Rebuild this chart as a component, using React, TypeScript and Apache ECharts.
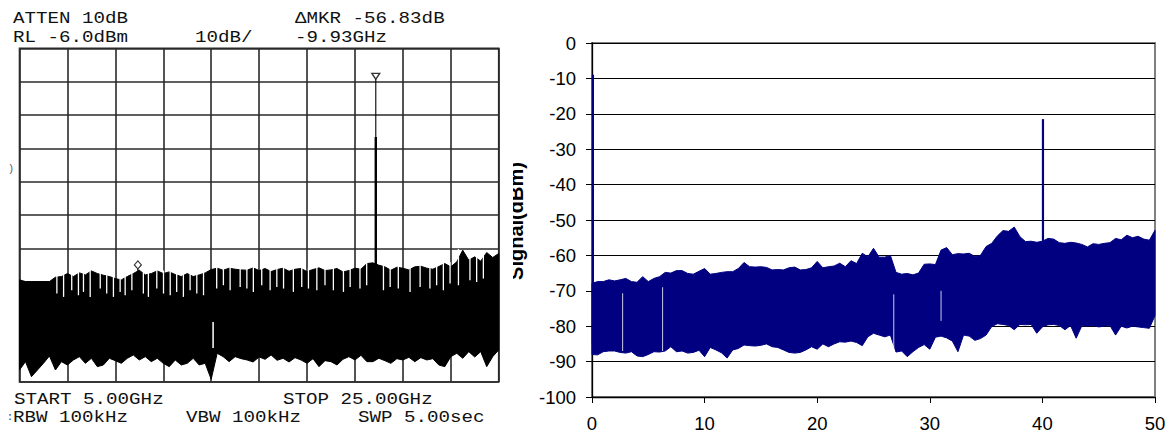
import React, { useEffect, useRef } from "react";
import * as echarts from "echarts";

// ---------- Left panel: spectrum analyzer trace (GHz, dBm) ----------
const LEFT_FREQ = [
  5, 5.25, 5.5, 5.75, 6, 6.25, 6.5, 6.75, 7, 7.25, 7.5, 7.75, 8, 8.25, 8.5, 8.75,
  9, 9.25, 9.5, 9.75, 10, 10.25, 10.5, 10.75, 11, 11.25, 11.5, 11.75, 12, 12.25, 12.5, 12.75,
  13, 13.25, 13.5, 13.75, 14, 14.25, 14.5, 14.75, 15, 15.25, 15.5, 15.75, 16, 16.25, 16.5, 16.75,
  17, 17.25, 17.5, 17.75, 18, 18.25, 18.5, 18.75, 19, 19.25, 19.5, 19.75, 20, 20.25, 20.5, 20.75,
  21, 21.25, 21.5, 21.75, 22, 22.25, 22.5, 22.75, 23, 23.25, 23.5, 23.75, 24, 24.25, 24.5, 24.75, 25,
];
const LEFT_UPPER = [
  -75.4, -75.9, -75.9, -75.9, -75.9, -75.9, -74.6, -74.4, -73.5, -74.4, -73.3, -73.9, -72.7, -73.5, -74.0, -74.4,
  -75.0, -75.4, -74.4, -73.5, -72.5, -73.9, -73.5, -72.7, -73.5, -73.0, -73.8, -74.4, -73.5, -74.4, -73.9, -73.3,
  -72.3, -71.9, -72.5, -71.9, -72.2, -72.4, -72.5, -71.8, -72.6, -72.0, -72.9, -72.3, -71.9, -72.8, -72.2, -72.0,
  -72.9, -72.3, -71.8, -72.6, -72.4, -72.0, -73.0, -72.6, -71.9, -72.2, -70.5, -70.3, -71.0, -71.5, -72.5, -71.6,
  -71.9, -72.4, -71.5, -71.3, -71.9, -72.2, -71.4, -70.5, -71.5, -70.0, -66.5, -69.5, -68.5, -69.8, -67.2, -68.7, -67.5,
];
const LEFT_LOWER = [
  -102.4, -99.9, -104.4, -102.4, -100.4, -98.2, -102.4, -99.9, -100.9, -99.4, -98.4, -100.4, -98.9, -101.4, -100.9, -98.9,
  -99.6, -100.4, -98.9, -97.9, -99.4, -98.4, -99.9, -98.9, -100.4, -101.4, -99.4, -100.9, -100.4, -98.9, -100.9, -100.4,
  -105.2, -97.4, -98.4, -99.9, -98.4, -99.0, -99.4, -100.0, -98.5, -99.2, -97.9, -99.5, -98.9, -100.0, -98.7, -99.4,
  -100.4, -99.0, -101.4, -99.6, -99.9, -100.9, -99.2, -98.4, -99.4, -98.0, -99.9, -99.9, -98.9, -99.6, -100.4, -99.0,
  -99.4, -98.6, -99.9, -98.7, -99.4, -99.0, -100.9, -101.4, -98.4, -97.4, -98.9, -96.9, -98.5, -96.9, -101.4, -98.4, -96.4,
];
// white comb gaps opening from the top edge of the trace, and how far down each reaches (dBm)
const LEFT_NOTCH_FREQ = [
  6.56, 6.84, 7.18, 7.46, 7.67, 7.95, 8.37, 8.64, 8.92, 9.2, 9.41, 9.69, 10.17, 10.38, 10.73, 11.01,
  11.29, 11.56, 11.84, 12.12, 12.4, 12.68, 13.23, 13.51, 13.79, 14.21, 14.49, 14.76, 15.11, 15.46, 15.74,
  16.02, 16.43, 16.78, 17.06, 17.41, 17.75, 18.1, 18.52, 18.8, 19.21, 19.49, 20.19, 20.47, 20.81, 21.3,
  21.72, 22.13, 22.41, 22.69, 22.97, 23.32, 23.8, 24.08, 24.36,
];
const LEFT_NOTCH_BOTTOM = [
  -79.5, -80.5, -78.5, -80, -79, -80.5, -78, -79.5, -80.5, -79, -80, -78.5, -79.5, -80.5, -78, -79.5,
  -80, -79, -80.5, -78.5, -79.5, -80, -78, -77, -78.5, -77.5, -78, -79, -77, -78.5, -77.5,
  -78, -79, -77.5, -78, -78.5, -77, -78.5, -79, -77.5, -78, -77, -78.5, -77.5, -78, -79,
  -77.5, -78, -77, -78.5, -76.5, -77, -75.5, -76, -75,
];
const LEFT_SPIKE = { freq: 19.87, top: -15.3, thickTop: -32.6, base: -74 };
const LEFT_MARKER2 = { freq: 9.94, level: -72.1 };
const LEFT_GAPS = [{ freq: 13.08, top: -88, bottom: -95.8 }];

// ---------- Right panel: simulated spectrum (GHz, dBm) ----------
const RIGHT_FREQ = [
  0, 0.5, 1, 1.5, 2, 2.5, 3, 3.5, 4, 4.5, 5, 5.5, 6, 6.5, 7, 7.5, 8, 8.5, 9, 9.5,
  10, 10.5, 11, 11.5, 12, 12.5, 13, 13.5, 14, 14.5, 15, 15.5, 16, 16.5, 17, 17.5, 18, 18.5, 19, 19.5,
  20, 20.5, 21, 21.5, 22, 22.5, 23, 23.5, 24, 24.5, 25, 25.5, 26, 26.5, 27, 27.5, 28, 28.5, 29, 29.5,
  30, 30.5, 31, 31.5, 32, 32.5, 33, 33.5, 34, 34.5, 35, 35.5, 36, 36.5, 37, 37.5, 38, 38.5, 39, 39.5,
  40, 40.5, 41, 41.5, 42, 42.5, 43, 43.5, 44, 44.5, 45, 45.5, 46, 46.5, 47, 47.5, 48, 48.5, 49, 49.5, 50,
];
const RIGHT_UPPER = [
  -67.9, -67.4, -67.4, -66.9, -67.2, -66.9, -66.5, -67.4, -67.6, -66.0,
  -67.4, -66.5, -66.0, -64.8, -65.0, -64.3, -64.3, -65.1, -65.3, -64.5,
  -63.7, -65.3, -65.1, -64.8, -64.6, -64.6, -63.7, -62.0, -63.2, -63.3,
  -63.2, -63.4, -64.1, -64.0, -64.1, -63.5, -63.3, -64.1, -64.0, -63.5,
  -61.7, -63.5, -63.2, -63.0, -62.2, -63.2, -61.5, -62.3, -59.4, -60.4,
  -58.0, -60.5, -60.5, -60.0, -64.8, -65.3, -65.1, -65.5, -65.0, -62.5,
  -62.4, -62.6, -58.5, -57.8, -59.8, -59.5, -59.6, -59.4, -60.3, -60.0,
  -57.5, -56.6, -54.5, -53.0, -53.2, -52.0, -54.7, -56.1, -56.0, -56.3,
  -56.0, -55.2, -55.4, -56.4, -56.6, -56.3, -56.5, -56.9, -57.6, -56.7,
  -56.9, -56.6, -56.4, -55.2, -55.6, -54.3, -55.0, -54.6, -55.4, -55.7,
  -52.9,
];
const RIGHT_LOWER = [
  -88.0, -88.1, -87.2, -87.0, -87.0, -87.4, -87.6, -87.2, -88.4, -88.6,
  -88.0, -87.2, -87.3, -87.0, -85.8, -87.2, -87.0, -87.6, -87.4, -86.8,
  -88.6, -86.0, -86.7, -87.5, -89.0, -86.7, -86.3, -85.3, -85.5, -85.6,
  -85.4, -85.0, -85.8, -86.0, -86.7, -87.4, -87.6, -87.4, -86.7, -85.8,
  -86.5, -85.0, -85.8, -85.0, -84.4, -84.5, -84.2, -84.6, -85.5, -83.0,
  -82.0, -82.5, -83.0, -82.5, -87.3, -87.0, -88.6, -87.2, -86.0, -85.2,
  -86.5, -83.1, -82.8, -83.3, -84.2, -87.2, -82.5, -82.8, -84.0, -83.5,
  -82.5, -80.1, -79.3, -79.5, -79.8, -81.0, -79.5, -79.6, -79.5, -82.0,
  -80.2, -79.6, -79.5, -79.8, -81.0, -79.8, -83.4, -79.9, -80.0, -79.8,
  -80.2, -80.0, -79.8, -82.5, -80.0, -80.5, -80.0, -80.2, -80.4, -80.6,
  -77.0,
];
const RIGHT_SPIKES = [
  { freq: 0.08, top: -9, base: -85 },
  { freq: 40.05, top: -21.5, base: -60 },
];
const RIGHT_GAPS = [
  { freq: 2.72, top: -70.7, bottom: -87 },
  { freq: 6.27, top: -69, bottom: -87 },
  { freq: 26.8, top: -71, bottom: -87 },
  { freq: 31.0, top: -70, bottom: -78.5 },
];

// ---------- Texts ----------
const HEADER_TEXTS = [
  { text: "ATTEN 10dB", x: 13, y: 18.5 },
  { text: "RL -6.0dBm", x: 13, y: 37.5 },
  { text: "10dB/", x: 195, y: 37.5 },
  { text: "\u0394MKR -56.83dB", x: 295, y: 18.5 },
  { text: "-9.93GHz", x: 295, y: 37.5 },
  { text: "START 5.00GHz", x: 14, y: 399 },
  { text: "STOP 25.00GHz", x: 283, y: 399 },
  { text: "RBW 100kHz", x: 13, y: 417.5 },
  { text: "VBW 100kHz", x: 186, y: 417.5 },
  { text: "SWP 5.00sec", x: 358, y: 417.5 },
];
const Y_TITLE = "Signal(dBm)";
const X_RIGHT_TICKS = { min: 0, max: 50, interval: 10 };
const Y_RIGHT_TICKS = { min: -100, max: 0, interval: 10 };

const NAVY = "#000080";
const MONO = '"Liberation Mono", "DejaVu Sans Mono", monospace';
const SANS = '"Liberation Sans", Arial, sans-serif';

function band(xi: number, yi: number, freq: number[], upper: number[], lower: number[], color: string) {
  return {
    type: "custom",
    coordinateSystem: "cartesian2d",
    xAxisIndex: xi,
    yAxisIndex: yi,
    data: [[freq[0], upper[0]]],
    encode: { x: 0, y: 1 },
    silent: true,
    z: 3,
    renderItem: (_p: any, api: any) => {
      const pts: number[][] = [];
      for (let i = 0; i < freq.length; i++) pts.push(api.coord([freq[i], upper[i]]));
      for (let i = freq.length - 1; i >= 0; i--) pts.push(api.coord([freq[i], lower[i]]));
      return {
        type: "polygon",
        shape: { points: pts },
        style: { fill: color, stroke: color, lineWidth: 1 },
      };
    },
  };
}

// white comb gaps: each opens from just above the trace's edge down to its listed level
function notches(xi: number, yi: number, freqs: number[], bottoms: number[], gridF: number[], upper: number[]) {
  return {
    type: "custom",
    coordinateSystem: "cartesian2d",
    xAxisIndex: xi,
    yAxisIndex: yi,
    data: freqs.map((f, i) => [f, bottoms[i]]),
    encode: { x: 0, y: 1 },
    silent: true,
    z: 4,
    renderItem: (params: any, api: any) => {
      const i = params.dataIndex;
      const f = freqs[i];
      let k = 0;
      while (k < gridF.length - 2 && gridF[k + 1] < f) k++;
      const edge = Math.max(upper[k], upper[k + 1]) + 0.4;
      const a = api.coord([f, edge]);
      const b = api.coord([f, bottoms[i]]);
      return {
        type: "line",
        shape: { x1: a[0], y1: a[1], x2: b[0], y2: b[1] },
        style: { stroke: "#fff", lineWidth: 1.3 },
      };
    },
  };
}

function vline(xi: number, yi: number, f: number, a: number, b: number, color: string, width: number, z = 4) {
  return {
    type: "line",
    xAxisIndex: xi,
    yAxisIndex: yi,
    data: [[f, a], [f, b]],
    symbol: "none",
    silent: true,
    z,
    lineStyle: { color, width },
  };
}

export default function App() {
  const ref = useRef<HTMLDivElement>(null);
  useEffect(() => {
    if (!ref.current) return;
    const chart = echarts.init(ref.current, null, { renderer: "svg" });
    const gridColor = "#2a2a2a";
    const option: any = {
      animation: false,
      backgroundColor: "#fff",
      grid: [
        {
          left: 19.5, top: 48.3, width: 479.2, height: 333.7,
          show: true, borderColor: gridColor, borderWidth: 1.6, backgroundColor: "transparent",
        },
        {
          left: 592, top: 43, width: 563, height: 354,
          show: true, borderColor: "#808080", borderWidth: 2, backgroundColor: "transparent",
        },
      ],
      xAxis: [
        { gridIndex: 0, type: "value", min: 5, max: 25, show: false },
        {
          gridIndex: 0, type: "value", min: 0, max: 10, interval: 1,
          axisLine: { show: false }, axisTick: { show: false }, axisLabel: { show: false },
          splitLine: { show: true, lineStyle: { color: gridColor, width: 1.6 } },
        },
        {
          gridIndex: 1, type: "value", min: X_RIGHT_TICKS.min, max: X_RIGHT_TICKS.max, interval: X_RIGHT_TICKS.interval,
          axisLine: { show: true, onZero: false, lineStyle: { color: "#000", width: 1.3 } },
          axisTick: { show: true, inside: false, length: 6, lineStyle: { color: "#000", width: 1 } },
          axisLabel: { color: "#000", fontFamily: SANS, fontSize: 18.5, margin: 17 },
          splitLine: { show: false },
        },
      ],
      yAxis: [
        { gridIndex: 0, type: "value", min: -106, max: -6, show: false },
        {
          gridIndex: 0, type: "value", min: 0, max: 10, interval: 1,
          axisLine: { show: false }, axisTick: { show: false }, axisLabel: { show: false },
          splitLine: { show: true, lineStyle: { color: gridColor, width: 1.6 } },
        },
        {
          gridIndex: 1, type: "value", min: Y_RIGHT_TICKS.min, max: Y_RIGHT_TICKS.max, interval: Y_RIGHT_TICKS.interval,
          axisLine: { show: true, onZero: false, lineStyle: { color: "#000", width: 1.3 } },
          axisTick: { show: true, inside: false, length: 6, lineStyle: { color: "#000", width: 1 } },
          axisLabel: { color: "#000", fontFamily: SANS, fontSize: 18.5, margin: 16 },
          splitLine: { show: true, lineStyle: { color: "#000", width: 1 } },
        },
      ],
      series: [
        band(0, 0, LEFT_FREQ, LEFT_UPPER, LEFT_LOWER, "#000"),
        notches(0, 0, LEFT_NOTCH_FREQ, LEFT_NOTCH_BOTTOM, LEFT_FREQ, LEFT_UPPER),
        ...LEFT_GAPS.map((g) => vline(0, 0, g.freq, g.top, g.bottom, "#fff", 1.5, 5)),
        vline(0, 0, LEFT_SPIKE.freq, LEFT_SPIKE.top, LEFT_SPIKE.base, "#000", 1.1, 6),
        vline(0, 0, LEFT_SPIKE.freq, LEFT_SPIKE.thickTop, LEFT_SPIKE.base, "#000", 2.4, 6),
        {
          type: "scatter", xAxisIndex: 0, yAxisIndex: 0, silent: true, z: 7,
          data: [[LEFT_SPIKE.freq, LEFT_SPIKE.top]],
          symbol: "triangle", symbolRotate: 180, symbolSize: [8, 6], symbolOffset: [0, -3],
          itemStyle: { color: "#fff", borderColor: "#000", borderWidth: 1.3 },
        },
        vline(0, 0, LEFT_MARKER2.freq, LEFT_MARKER2.level, LEFT_MARKER2.level - 3, "#000", 1.2, 6),
        {
          type: "scatter", xAxisIndex: 0, yAxisIndex: 0, silent: true, z: 7,
          data: [[LEFT_MARKER2.freq, LEFT_MARKER2.level]],
          symbol: "diamond", symbolSize: [7, 8], symbolOffset: [0, -4],
          itemStyle: { color: "#fff", borderColor: "#000", borderWidth: 1.2 },
        },
        band(2, 2, RIGHT_FREQ, RIGHT_UPPER, RIGHT_LOWER, NAVY),
        ...RIGHT_GAPS.map((g) => vline(2, 2, g.freq, g.top, g.bottom, "rgba(255,255,255,0.8)", 1, 5)),
        ...RIGHT_SPIKES.map((s) => vline(2, 2, s.freq, s.top, s.base, NAVY, 2.2)),
      ],
      graphic: [
        ...HEADER_TEXTS.map((t) => ({
          type: "text",
          x: t.x,
          y: t.y,
          scaleX: 1.2,
          silent: true,
          style: {
            text: t.text,
            fontFamily: MONO,
            fontSize: 16,
            fill: "#111",
            textAlign: "left",
            textVerticalAlign: "middle",
          },
        })),
        {
          type: "text", x: 8, y: 169, silent: true,
          style: { text: ")", fontFamily: MONO, fontSize: 10, fill: "#555", textVerticalAlign: "middle" },
        },
        {
          type: "text", x: 7, y: 417, silent: true,
          style: { text: ":", fontFamily: MONO, fontSize: 10, fill: "#333", textVerticalAlign: "middle" },
        },
        {
          type: "text", x: 516, y: 221, rotation: Math.PI / 2, silent: true, z: 9,
          style: {
            text: Y_TITLE, fontFamily: SANS, fontWeight: "bold", fontSize: 20, fill: "#000",
            textAlign: "center", textVerticalAlign: "middle",
          },
        },
        {
          type: "rect", silent: true, z: 10,
          shape: { x: 500.5, y: 130, width: 12.5, height: 180 },
          style: { fill: "#fff" },
        },
      ],
    };
    chart.setOption(option);
    return () => chart.dispose();
  }, []);
  return (
    <div
      ref={ref}
      style={{ position: "fixed", left: 0, top: 0, width: 1170, height: 434, background: "#fff" }}
    />
  );
}
